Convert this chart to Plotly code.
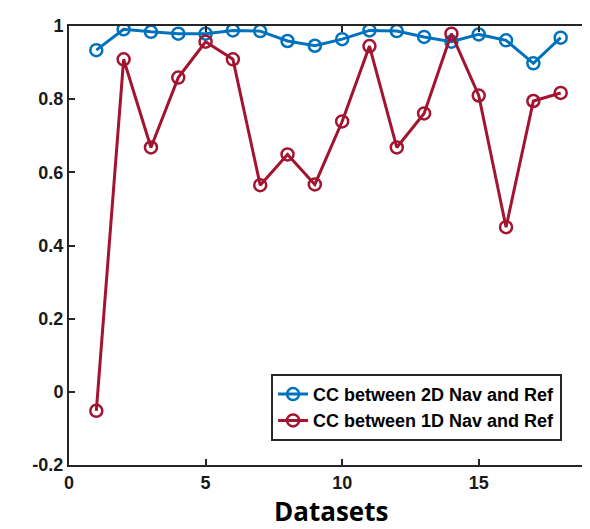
import plotly.graph_objects as go

datasets = list(range(1, 19))
cc_2d = [0.934, 0.991, 0.984, 0.979, 0.979, 0.988, 0.986, 0.959, 0.946,
         0.964, 0.988, 0.986, 0.970, 0.957, 0.977, 0.961, 0.898, 0.968]
cc_1d = [-0.052, 0.909, 0.668, 0.859, 0.957, 0.909, 0.565, 0.649, 0.567,
         0.739, 0.945, 0.668, 0.761, 0.979, 0.810, 0.450, 0.795, 0.817]
names = ["CC between 2D Nav and Ref", "CC between 1D Nav and Ref"]
colors = ["#0072BD", "#A2142F"]
x_ticks = [0, 5, 10, 15]
y_ticks = [-0.2, 0, 0.2, 0.4, 0.6, 0.8, 1]
y_tick_labels = ["-0.2", "0", "0.2", "0.4", "0.6", "0.8", "1"]

fig = go.Figure()
for ys, name, c in zip([cc_2d, cc_1d], names, colors):
    fig.add_trace(go.Scatter(
        x=datasets, y=ys, name="<b>" + name + "</b>", mode="lines+markers",
        line=dict(color=c, width=3),
        marker=dict(symbol="circle-open", size=12, color=c, line=dict(width=2.5, color=c)),
    ))

axis_common = dict(
    showgrid=False, zeroline=False, showline=True, linecolor="#262626", linewidth=2,
    mirror="ticks", ticks="inside", ticklen=6, tickwidth=2, tickcolor="#262626",
    tickfont=dict(family="Liberation Sans", size=18, color="#1a1a1a"),
)
fig.update_xaxes(range=[0, 19], tickvals=x_ticks,
                 ticktext=["<b>%d</b>" % v for v in x_ticks], **axis_common)
fig.update_yaxes(range=[-0.2, 1], tickvals=y_ticks,
                 ticktext=["<b>%s</b>" % t for t in y_tick_labels], ticklabelstandoff=0,
                 **axis_common)

fig.add_annotation(text="<b>Datasets</b>", xref="paper", yref="paper", x=0.505, y=-0.105,
                   xanchor="center", yanchor="middle", showarrow=False, borderpad=0,
                   font=dict(family="Open Sans", size=26, color="black"))

fig.update_layout(
    width=590, height=529,
    margin=dict(l=61, r=8, t=14, b=72),
    plot_bgcolor="white", paper_bgcolor="white",
    showlegend=True,
    legend=dict(x=0.95, xanchor="right", y=0.055, yanchor="bottom",
                bgcolor="white", bordercolor="#262626", borderwidth=2,
                font=dict(family="Liberation Sans", size=18, color="black"),
                itemwidth=30, tracegroupgap=0),
)
fig.write_html("out.html")
